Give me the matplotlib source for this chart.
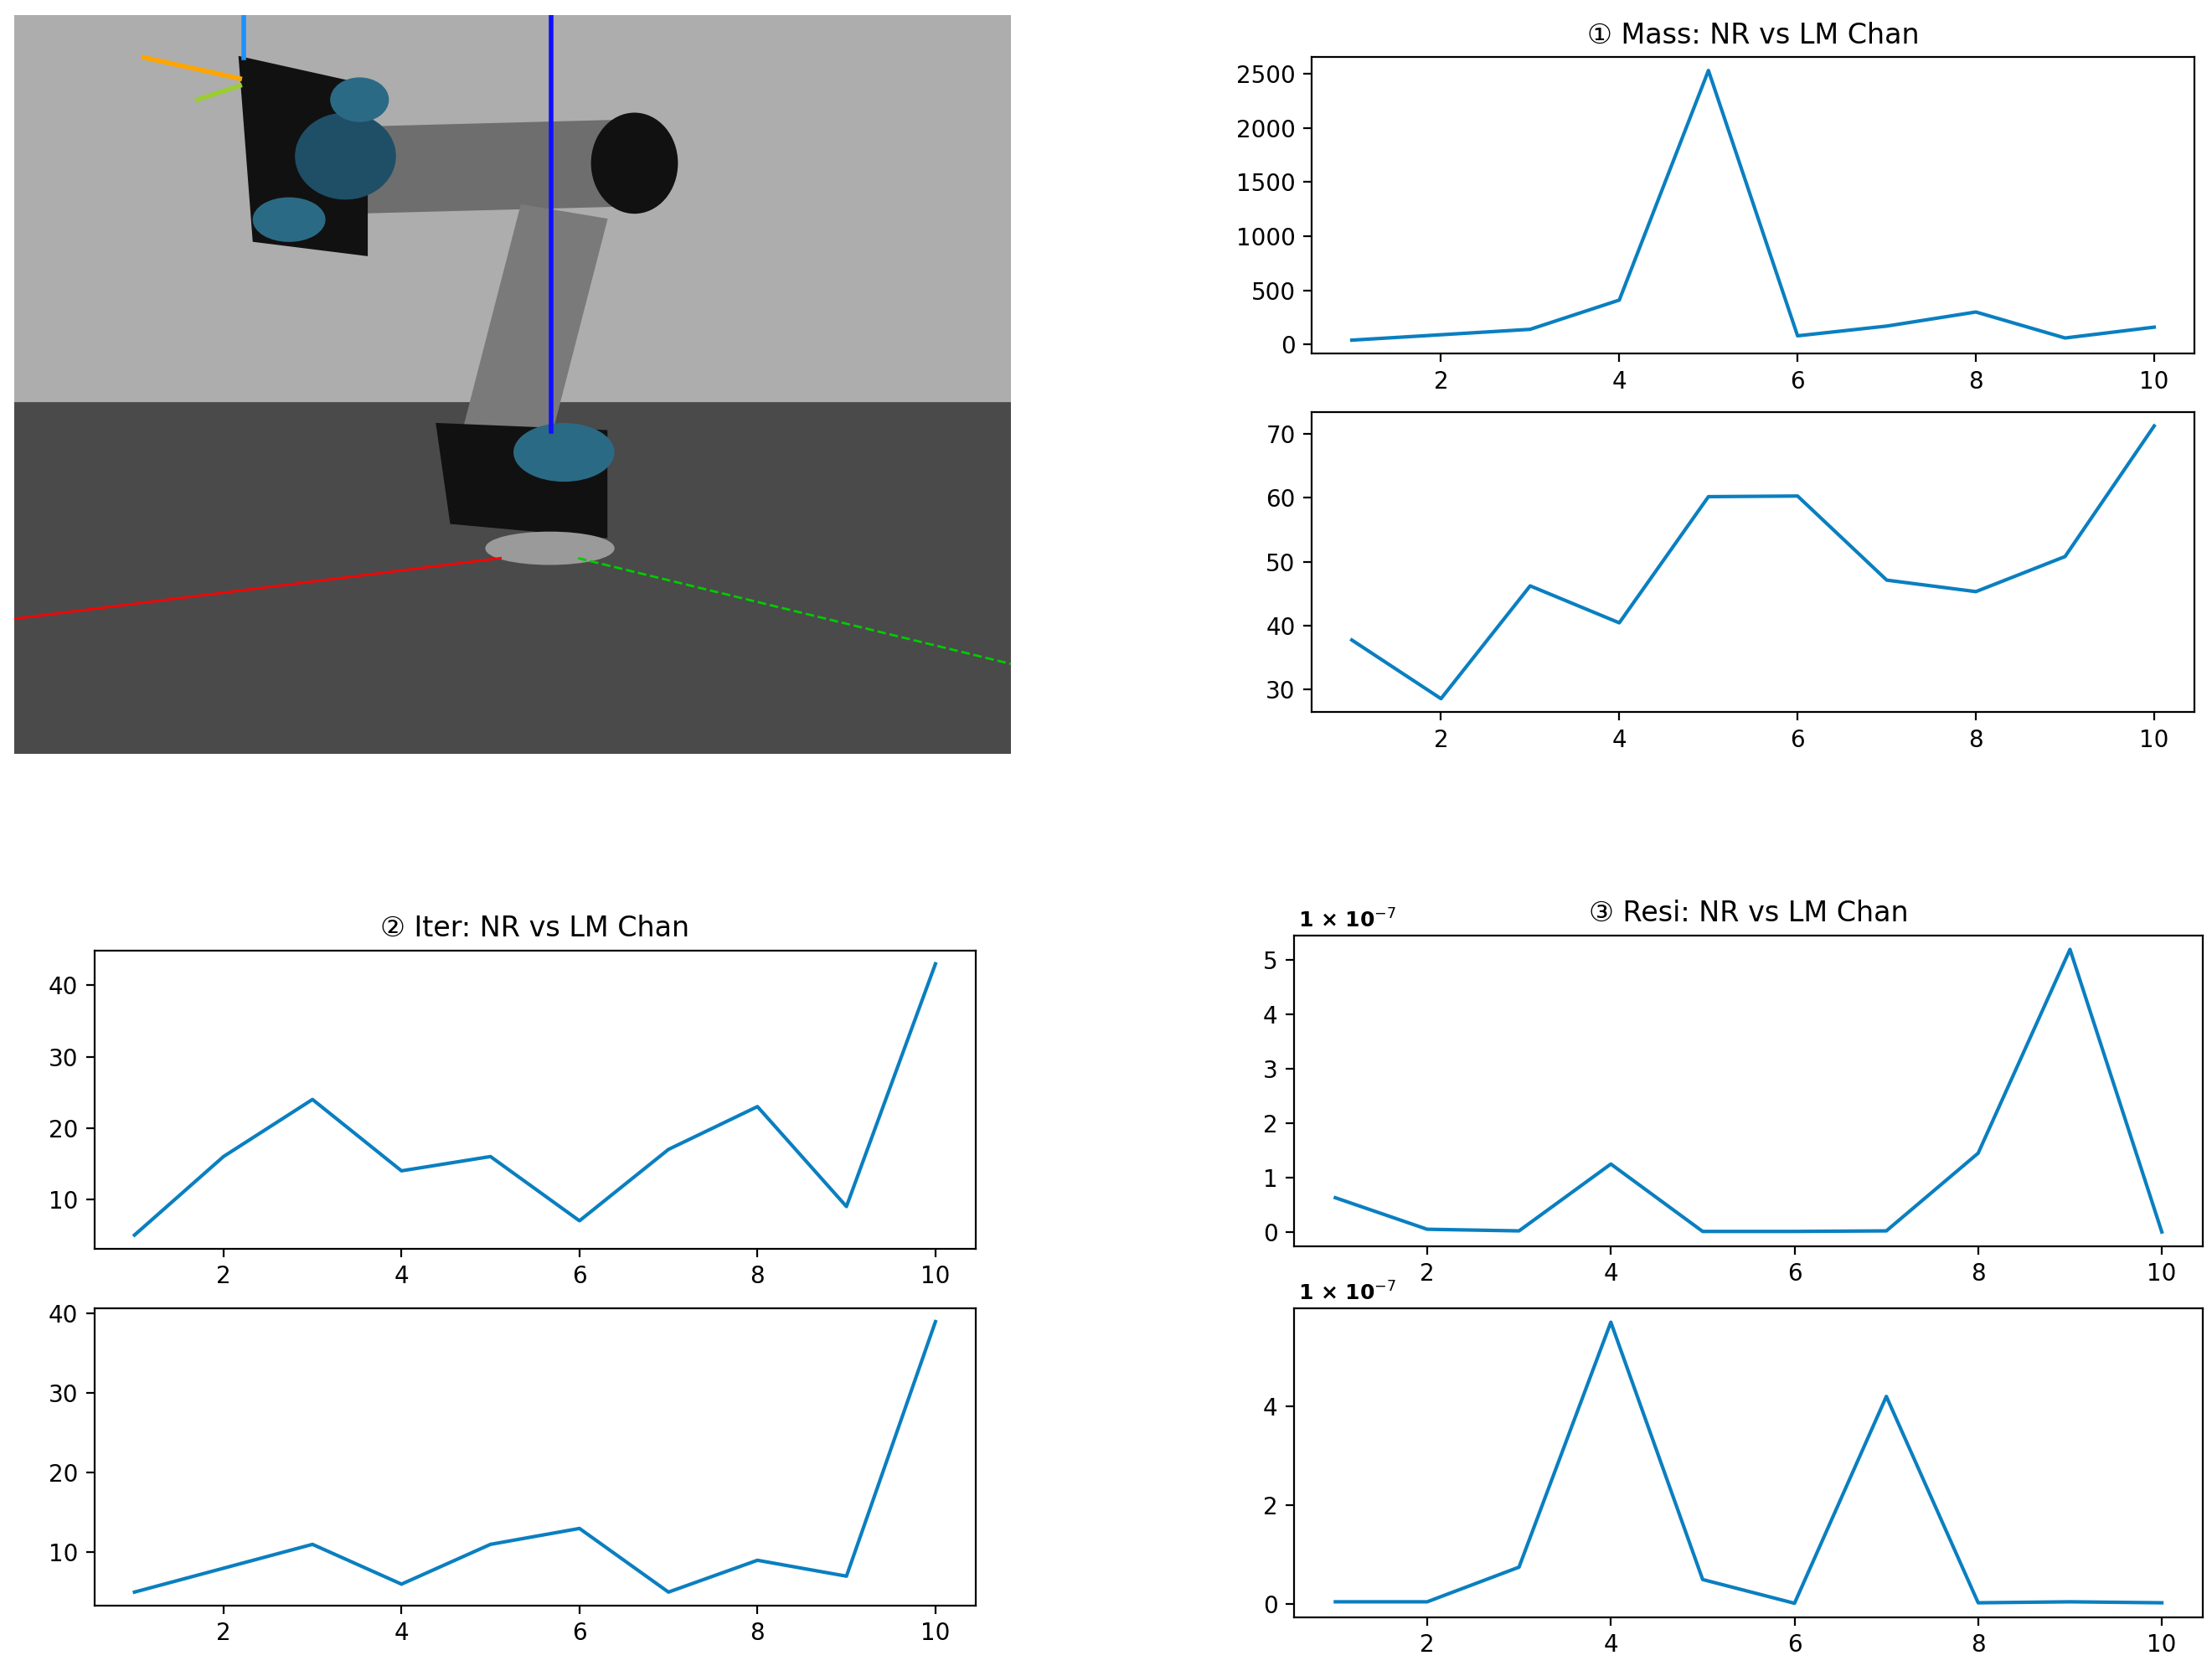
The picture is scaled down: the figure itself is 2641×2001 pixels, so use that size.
import matplotlib
matplotlib.use("Agg")
import matplotlib.pyplot as plt
from matplotlib.ticker import FuncFormatter
from matplotlib.patches import Rectangle, Polygon, Ellipse

plt.rcParams['font.family'] = ['DejaVu Sans', 'Noto Sans CJK SC']

x = list(range(1, 11))
mass_nr = [40, 90, 140, 410, 2530, 80, 170, 300, 60, 160]
mass_lm = [37.7, 28.5, 46.2, 40.4, 60.2, 60.3, 47.1, 45.3, 50.8, 71.3]
iter_nr = [5, 16, 24, 14, 16, 7, 17, 23, 9, 43]
iter_lm = [5, 8, 11, 6, 11, 13, 5, 9, 7, 39]
resi_nr = [0.63, 0.05, 0.02, 1.25, 0.01, 0.01, 0.02, 1.45, 5.2, 0.0]
resi_lm = [0.05, 0.05, 0.75, 5.7, 0.5, 0.02, 4.2, 0.03, 0.05, 0.03]
titles = ["① Mass: NR vs LM Chan", "② Iter: NR vs LM Chan", "③ Resi: NR vs LM Chan"]

C = '#0a7fc0'
fig = plt.figure(figsize=(13.205, 10.005), dpi=200)

def mk(l, b, r, t):
    return fig.add_axes([l, b, r - l, t - b])

# robot scene (schematic)
axr = mk(0.0064, 0.55, 0.457, 0.991)
axr.set_xlim(0, 707); axr.set_ylim(524, 0); axr.axis('off')
axr.add_patch(Rectangle((0, 0), 707, 275, color='#adadad'))
axr.add_patch(Rectangle((0, 275), 707, 249, color='#4a4a4a'))
axr.plot([0, 345], [428, 385], color='red', lw=1)
axr.plot([400, 707], [385, 460], color='#00cc00', lw=1, ls='--')
axr.plot([381, 381], [0, 295], color='#1010ff', lw=2)
axr.plot([163, 163], [0, 30], color='#1e90ff', lw=2)
axr.plot([92, 160], [30, 45], color='orange', lw=2)
axr.plot([130, 160], [60, 50], color='#9acd32', lw=2)
axr.add_patch(Polygon([[240, 80], [430, 75], [430, 135], [240, 140]], color='#6e6e6e'))
axr.add_patch(Polygon([[360, 135], [420, 145], [380, 300], [320, 290]], color='#7a7a7a'))
axr.add_patch(Ellipse((440, 105), 60, 70, color='#111111'))
axr.add_patch(Polygon([[160, 30], [250, 50], [250, 170], [170, 160]], color='#111111'))
axr.add_patch(Ellipse((235, 100), 70, 60, color='#1e4f66'))
axr.add_patch(Ellipse((245, 60), 40, 30, color='#2b6a85'))
axr.add_patch(Ellipse((195, 145), 50, 30, color='#2b6a85'))
axr.add_patch(Polygon([[300, 290], [420, 295], [420, 370], [310, 360]], color='#111111'))
axr.add_patch(Ellipse((390, 310), 70, 40, color='#2b6a85'))
axr.add_patch(Ellipse((380, 378), 90, 22, color='#9a9a9a'))

def style(ax):
    ax.set_xticks([2, 4, 6, 8, 10])
    ax.tick_params(labelsize=10)

a1 = mk(0.593, 0.789, 0.992, 0.966)
a1.plot(x, mass_nr, color=C); style(a1); a1.set_title(titles[0], fontsize=12)
a2 = mk(0.593, 0.575, 0.992, 0.754)
a2.plot(x, mass_lm, color=C); style(a2)
a3 = mk(0.0427, 0.255, 0.441, 0.433)
a3.plot(x, iter_nr, color=C); style(a3); a3.set_title(titles[1], fontsize=12)
a4 = mk(0.0427, 0.042, 0.441, 0.2195)
a4.plot(x, iter_lm, color=C); style(a4)

fmt = FuncFormatter(lambda v, p: f"{v*1e7:g}")
a5 = mk(0.585, 0.2565, 0.996, 0.442)
a5.plot(x, [v * 1e-7 for v in resi_nr], color=C); style(a5)
a5.yaxis.set_major_formatter(fmt); a5.set_title(titles[2], fontsize=12, pad=6)
a5.text(0.005, 1.01, r"1 × 10$^{-7}$", transform=a5.transAxes, fontsize=9,
        fontweight='bold', va='bottom')
a6 = mk(0.585, 0.035, 0.996, 0.2195)
a6.plot(x, [v * 1e-7 for v in resi_lm], color=C); style(a6)
a6.set_yticks([0, 2e-7, 4e-7]); a6.yaxis.set_major_formatter(fmt)
a6.text(0.005, 1.01, r"1 × 10$^{-7}$", transform=a6.transAxes, fontsize=9,
        fontweight='bold', va='bottom')

fig.savefig("out.png", dpi=200)
